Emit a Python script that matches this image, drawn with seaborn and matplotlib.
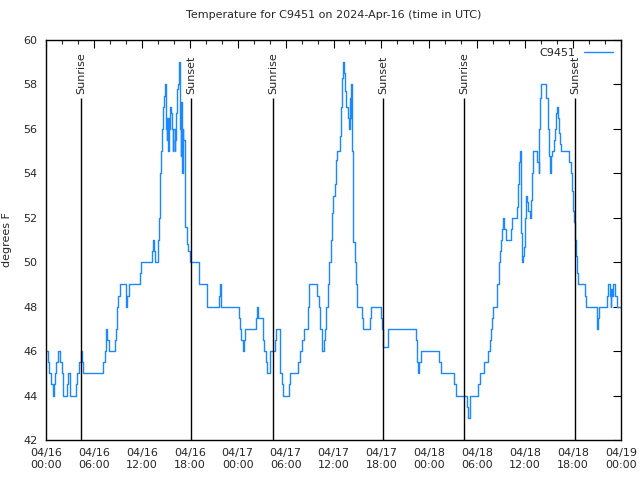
import pandas as pd
import matplotlib
matplotlib.use("Agg")
import matplotlib.pyplot as plt
import matplotlib.dates as mdates
import seaborn as sns

# hours since 2024-04-16 00:00 UTC, value holds until next reading
hours = [0.0, 0.2, 0.4, 0.65, 0.85, 1.0, 1.15, 1.3, 1.45, 1.75, 1.95, 2.1,
         2.67, 2.8, 2.95, 3.05, 3.7, 3.85, 4.1, 4.35, 4.5, 4.6, 7.15, 7.35,
         7.55, 7.7, 7.85, 8.7, 8.8, 8.9, 9.05, 9.25, 10.0, 10.15, 10.35, 11.75,
         11.95, 13.25, 13.35, 13.55, 13.65, 14.05, 14.15, 14.25, 14.3, 14.4,
         14.5, 14.65, 14.75, 14.85, 14.98, 15.11, 15.19, 15.28, 15.36, 15.44,
         15.53, 15.69, 15.78, 15.86, 15.94, 16.11, 16.19, 16.28, 16.45, 16.53,
         16.61, 16.69, 16.78, 16.86, 16.95, 17.03, 17.11, 17.19, 17.36, 17.44,
         17.61, 17.8, 18.03, 19.12, 20.2, 21.6, 21.75, 21.95, 24.12, 24.25,
         24.45, 24.62, 24.75, 24.9, 26.3, 26.42, 26.55, 27.2, 27.35, 27.5,
         27.7, 28.0, 28.1, 28.65, 28.85, 29.3, 29.35, 29.5, 29.7, 30.4, 30.55,
         31.5, 31.8, 32.1, 32.35, 32.75, 32.85, 32.95, 33.97, 34.15, 34.3,
         34.5, 34.75, 34.95, 35.1, 35.3, 35.45, 35.64, 35.81, 35.98, 36.15,
         36.31, 36.48, 36.81, 36.98, 37.06, 37.23, 37.32, 37.4, 37.57, 37.82,
         37.98, 38.07, 38.15, 38.23, 38.32, 38.4, 38.48, 38.65, 38.82, 38.98,
         39.57, 39.73, 40.57, 40.74, 41.91, 42.07, 42.16, 42.82, 46.33, 46.5,
         46.6, 46.75, 46.9, 49.25, 49.45, 51.05, 51.3, 52.75, 52.9, 53.05,
         54.1, 54.35, 54.9, 55.3, 55.65, 55.75, 55.9, 56.02, 56.5, 56.68,
         56.85, 56.93, 57.1, 57.2, 57.4, 57.6, 58.18, 58.35, 58.94, 59.1,
         59.19, 59.3, 59.45, 59.52, 59.6, 59.68, 59.85, 60.03, 60.1, 60.2,
         60.4, 60.6, 60.7, 60.85, 61.0, 61.5, 61.7, 61.78, 61.9, 62.03, 62.65,
         62.8, 62.95, 63.1, 63.25, 63.36, 63.55, 63.78, 63.9, 64.0, 64.1,
         64.2, 64.35, 64.45, 65.53, 65.7, 65.86, 66.0, 66.1, 66.28, 66.4,
         66.5, 66.61, 67.45, 67.62, 68.95, 69.05, 69.12, 69.3, 70.2, 70.4,
         70.62, 70.7, 70.8, 70.9, 71.0, 71.3, 71.45, 72.0]
temps = [46, 45.5, 45, 44.5, 44, 44.5, 45, 45.5, 46, 45.5, 45, 44,
         44.5, 45, 44.5, 44, 44.5, 45, 45.5, 46, 45.5, 45, 45.5, 46,
         47, 46.5, 46, 46.5, 47, 48, 48.5, 49, 48, 48.5, 49, 49.5,
         50, 50.5, 51, 50.5, 50, 51, 52, 53, 54, 55,
         56, 57, 57.5, 58, 56, 55.5, 56.5, 55, 56.5, 56,
         57, 56.7, 56, 55, 56, 55, 55.5, 56.7, 57.8, 58,
         58.5, 59, 56, 54.8, 57.2, 54, 56, 55.5, 53, 51.6,
         50.8, 50.5, 50, 49, 48, 48.5, 49, 48, 47.5, 47,
         46.5, 46, 46.5, 47, 47.5, 48, 47.5, 46.5, 46, 45.5,
         45, 45.5, 46, 46.5, 47, 46, 45, 44.5, 44, 44.5, 45,
         45.5, 46, 46.5, 47, 47.5, 48, 49, 48.5, 48, 47,
         46, 46.5, 47, 48, 49, 50, 51, 52.2, 53, 53.5,
         54.6, 55, 55.7, 57, 58.3, 59, 58.5, 57.7, 57, 56.5,
         56, 57.4, 56.5, 58, 55, 52.8, 50.9, 50, 49, 48,
         47.5, 47, 47.5, 48, 47.5, 47, 46.2, 47, 46.5, 45.5,
         45, 45.5, 46, 45.5, 45, 44.5, 44, 43.5, 43, 44,
         44.5, 45, 45.5, 46, 46.5, 47, 47.5, 48, 49, 50,
         50.5, 51, 51.5, 52, 51.5, 51, 51.5, 52, 52.5, 53.5,
         54.5, 55, 53, 51.3, 50, 50.3, 50.7, 52, 53, 52.7,
         52.3, 52, 52.8, 54, 55, 54.5, 54, 56, 57.4, 58, 57.4,
         56, 54.8, 54, 54.8, 55, 55.5, 56, 56.7, 57, 56.5,
         55.8, 55.3, 55, 54.5, 54, 53.2, 52.3, 51.8, 51, 50.3,
         49.5, 49, 48.5, 48, 47.5, 47, 47.5, 48, 48.5, 49,
         48.5, 48, 48.8, 48.5, 49, 48.5, 48, 48]

sun_times = ["2024-04-16 04:23", "2024-04-16 18:10", "2024-04-17 04:25",
             "2024-04-17 18:12", "2024-04-18 04:20", "2024-04-18 18:14"]
sun_labels = ["Sunrise", "Sunset", "Sunrise", "Sunset", "Sunrise", "Sunset"]

start = pd.Timestamp("2024-04-16 00:00")
df = pd.DataFrame({"time": start + pd.to_timedelta(hours, unit="h"),
                   "temp": temps})

sns.set_style("white")
plt.rcParams["font.family"] = ["DejaVu Sans"]

fig = plt.figure(figsize=(6.4, 4.8), dpi=100)
ax = fig.add_axes([46 / 640, 40 / 480, 575 / 640, 400 / 480])

sns.lineplot(data=df, x="time", y="temp", ax=ax, color="#1a88ff",
             linewidth=1.0, drawstyle="steps-post", label="C9451")

for t, lab in zip(sun_times, sun_labels):
    ts = pd.Timestamp(t)
    ax.vlines(ts, 42, 57.4, color="black", linewidth=1.0)
    ax.text(ts, 57.55, lab, rotation=90, ha="center", va="bottom",
            fontsize=8)

ax.set_xlim(start, pd.Timestamp("2024-04-19 00:00"))
ax.set_ylim(42, 60)
ax.set_yticks(range(42, 61, 2))
ax.xaxis.set_major_locator(mdates.HourLocator(byhour=range(0, 24, 6)))
ax.xaxis.set_minor_locator(mdates.HourLocator(byhour=range(0, 24, 2)))
ax.xaxis.set_major_formatter(mdates.DateFormatter("%m/%d\n%H:%M"))

ax.tick_params(axis="both", which="major", direction="in", length=6,
               width=0.8, top=True, right=True, labelsize=8, pad=6,
               color="black")
ax.tick_params(axis="x", which="minor", direction="in", length=3,
               width=0.8, top=True)
for s in ax.spines.values():
    s.set_color("black")
    s.set_linewidth(1.0)

ax.set_xlabel("")
ax.set_ylabel("degrees F", fontsize=8, labelpad=8)
ax.set_title("Temperature for C9451 on 2024-Apr-16 (time in UTC)",
             fontsize=8, pad=16)
ax.legend(loc="upper right", frameon=False, fontsize=8, markerfirst=False,
          handlelength=2.6, borderaxespad=0.3)

fig.savefig("out.png", dpi=100)
